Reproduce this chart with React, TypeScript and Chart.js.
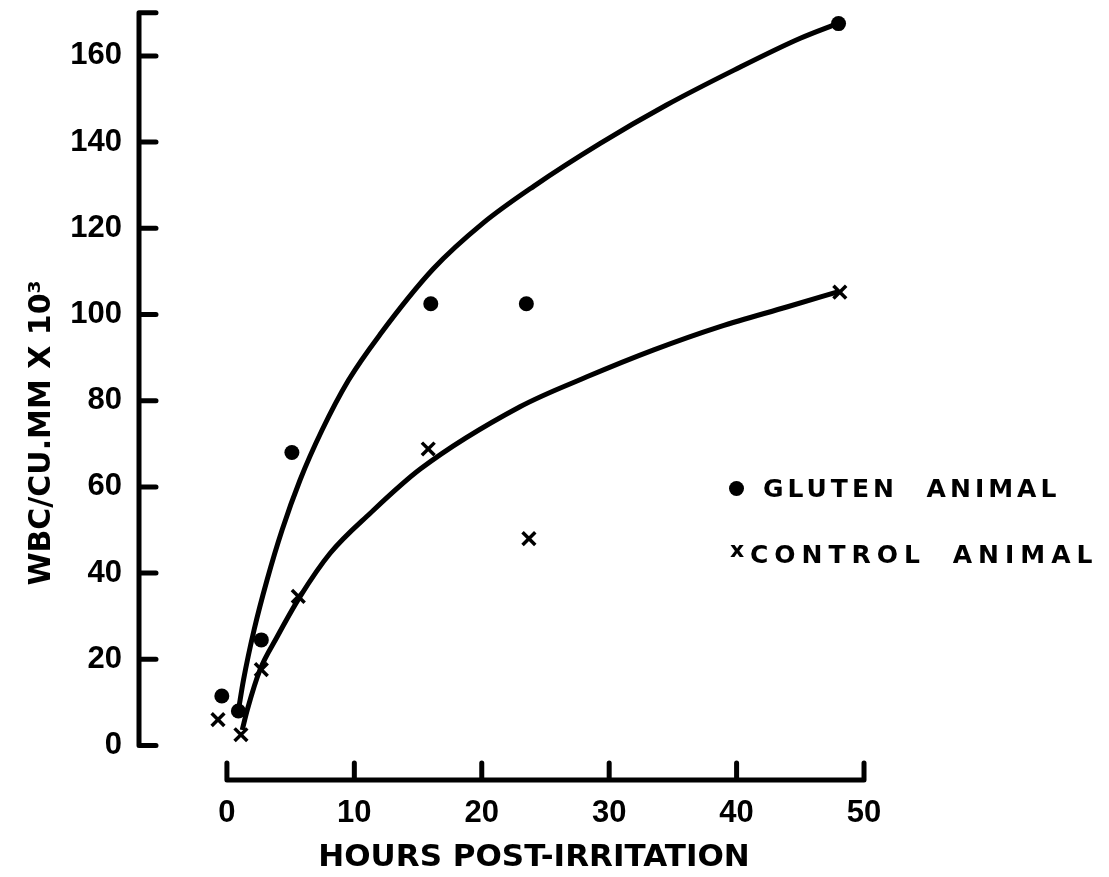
import React, { useEffect, useRef } from 'react';
import { Chart, registerables } from 'chart.js';

Chart.register(...registerables);

// ---- data ----
const glutenHours = [-0.4, 0.9, 2.7, 5.1, 16, 23.5, 48];
const glutenWbc = [11.5, 8, 24.5, 68, 102.5, 102.5, 167.5];
const controlHours = [-0.7, 1.1, 2.7, 5.6, 15.8, 23.7, 48.1];
const controlWbc = [6, 2.5, 17.6, 34.6, 68.8, 48, 105.2];

// hand-drawn fitted curves
const glutenCurveHours = [0.91, 1.3, 2.13, 3.15, 4.33, 5.74, 7.47, 9.55, 12.0, 16.2, 20.1, 24.1, 29.3, 34.5, 39.8, 45.0, 48.0];
const glutenCurveWbc = [8.3, 15.2, 26.8, 38.4, 50, 61.6, 73.2, 84.8, 95.3, 110.6, 121.2, 129.8, 139.7, 148.6, 156.7, 164.1, 167.6];
const controlCurveHours = [1.2, 1.6, 2.6, 3.9, 5.75, 8.1, 11.25, 15.2, 23.0, 28.3, 33.5, 38.7, 44.0, 48.0];
const controlCurveWbc = [3.6, 8.3, 17.6, 25.0, 34.6, 44.6, 53.9, 64.2, 78.6, 85.6, 91.8, 97.2, 101.8, 105.3];

const xTickValues = [0, 10, 20, 30, 40, 50];
const yTickValues = [0, 20, 40, 60, 80, 100, 120, 140, 160];
const yAxisTop = 170;
const xTitle = 'HOURS POST-IRRITATION';
const yTitle = 'WBC/CU.MM X 10\u00B3\u00A0\u00A0\u00A0\u00A0\u00A0\u00A0\u00A0';
const legendLabels = ['GLUTEN ANIMAL', 'CONTROL ANIMAL'];

const toPoints = (xs: number[], ys: number[]) => xs.map((x, i) => ({ x, y: ys[i] }));

const INK = '#000';
const AXIS_WIDTH = 5;
const TICK_LEN = 17;

const axisBrackets = {
  id: 'axisBrackets',
  afterDraw(chart: any) {
    const { ctx, chartArea } = chart;
    const xs = chart.scales.x;
    const ys = chart.scales.y;
    ctx.save();
    ctx.strokeStyle = INK;
    ctx.lineWidth = AXIS_WIDTH;
    ctx.lineCap = 'round';
    ctx.lineJoin = 'round';
    // y axis
    const ax = chartArea.left;
    ctx.beginPath();
    ctx.moveTo(ax, ys.getPixelForValue(yAxisTop));
    ctx.lineTo(ax, ys.getPixelForValue(0));
    [...yTickValues, yAxisTop].forEach((v) => {
      const py = ys.getPixelForValue(v);
      ctx.moveTo(ax, py);
      ctx.lineTo(ax + TICK_LEN, py);
    });
    ctx.stroke();
    // x axis
    const ay = chartArea.bottom;
    ctx.beginPath();
    ctx.moveTo(xs.getPixelForValue(xTickValues[0]), ay);
    ctx.lineTo(xs.getPixelForValue(xTickValues[xTickValues.length - 1]), ay);
    xTickValues.forEach((v) => {
      const px = xs.getPixelForValue(v);
      ctx.moveTo(px, ay);
      ctx.lineTo(px, ay - TICK_LEN);
    });
    ctx.stroke();
    ctx.restore();
  },
};

const tickFont = { family: '"Liberation Sans", Arial, sans-serif', weight: 'bold' as const, size: 31 };
const titleFontFamily = '"DejaVu Sans", sans-serif';

export default function App() {
  const canvasRef = useRef<HTMLCanvasElement>(null);

  useEffect(() => {
    document.body.style.margin = '0';
    const chart = new Chart(canvasRef.current as HTMLCanvasElement, {
      type: 'scatter',
      data: {
        datasets: [
          {
            label: 'Gluten fit',
            data: toPoints(glutenCurveHours, glutenCurveWbc),
            showLine: true,
            borderColor: INK,
            borderWidth: 5,
            pointRadius: 0,
            cubicInterpolationMode: 'monotone',
            clip: false,
          } as any,
          {
            label: 'Control fit',
            data: toPoints(controlCurveHours, controlCurveWbc),
            showLine: true,
            borderColor: INK,
            borderWidth: 5,
            pointRadius: 0,
            cubicInterpolationMode: 'monotone',
            clip: false,
          } as any,
          {
            label: legendLabels[0],
            data: toPoints(glutenHours, glutenWbc),
            pointStyle: 'circle',
            pointRadius: 7.5,
            backgroundColor: INK,
            borderColor: INK,
            borderWidth: 0,
            clip: false,
          } as any,
          {
            label: legendLabels[1],
            data: toPoints(controlHours, controlWbc),
            pointStyle: 'crossRot',
            pointRadius: 9,
            backgroundColor: INK,
            borderColor: INK,
            borderWidth: 3.5,
            clip: false,
          } as any,
        ],
      },
      options: {
        animation: false,
        responsive: false,
        layout: { padding: { left: 0, top: 12.8, right: 180, bottom: 0 } },
        plugins: { legend: { display: false }, tooltip: { enabled: false } },
        scales: {
          x: {
            type: 'linear',
            min: -6.9,
            max: 55.1,
            afterBuildTicks: (s: any) => {
              s.ticks = xTickValues.map((v) => ({ value: v }));
            },
            afterFit: (s: any) => {
              s.height = 97;
              s.paddingLeft = 0;
              s.paddingRight = 0;
            },
            grid: { display: false, drawTicks: false },
            border: { display: false },
            ticks: {
              color: INK,
              font: tickFont,
              padding: 15,
              maxRotation: 0,
              autoSkip: false,
            },
            title: {
              display: true,
              text: xTitle,
              color: INK,
              font: { family: titleFontFamily, weight: 'bold', size: 31 },
              padding: { top: 0, bottom: 0 },
            },
          },
          y: {
            type: 'linear',
            min: -8,
            max: yAxisTop,
            afterBuildTicks: (s: any) => {
              s.ticks = [...yTickValues, yAxisTop].map((v) => ({ value: v }));
            },
            afterFit: (s: any) => {
              s.width = 139;
              s.paddingTop = 0;
              s.paddingBottom = 0;
            },
            grid: { display: false, drawTicks: false },
            border: { display: false },
            ticks: {
              color: INK,
              font: tickFont,
              padding: 17,
              autoSkip: false,
              callback: (v: any) => (yTickValues.includes(Number(v)) ? String(v) : ''),
            },
            title: {
              display: true,
              text: yTitle,
              color: INK,
              font: { family: titleFontFamily, weight: 'bold', size: 30 },
              padding: { top: 24.5, bottom: 0 },
            },
          },
        },
      } as any,
      plugins: [axisBrackets],
    });
    return () => chart.destroy();
  }, []);

  const legendText: React.CSSProperties = {
    position: 'absolute',
    fontFamily: '"DejaVu Sans", sans-serif',
    fontWeight: 'bold',
    fontSize: 25,
    lineHeight: '25px',
    letterSpacing: '4px',
    wordSpacing: '16px',
    color: INK,
    whiteSpace: 'nowrap',
  };

  return (
    <div style={{ position: 'relative', width: 1109, height: 877, background: '#fff' }}>
      <canvas ref={canvasRef} width={1109} height={877} style={{ display: 'block', width: 1109, height: 877 }} />
      <span
        style={{ position: 'absolute', left: 729, top: 480.5, width: 15, height: 15, borderRadius: '50%', background: INK }}
      />
      <div style={{ ...legendText, left: 763, top: 476 }}>{legendLabels[0]}</div>
      <div style={{ ...legendText, fontSize: 22, lineHeight: '22px', letterSpacing: 0, left: 730, top: 539 }}>x</div>
      <div style={{ ...legendText, letterSpacing: '6px', wordSpacing: '12px', left: 750, top: 542 }}>{legendLabels[1]}</div>
    </div>
  );
}
